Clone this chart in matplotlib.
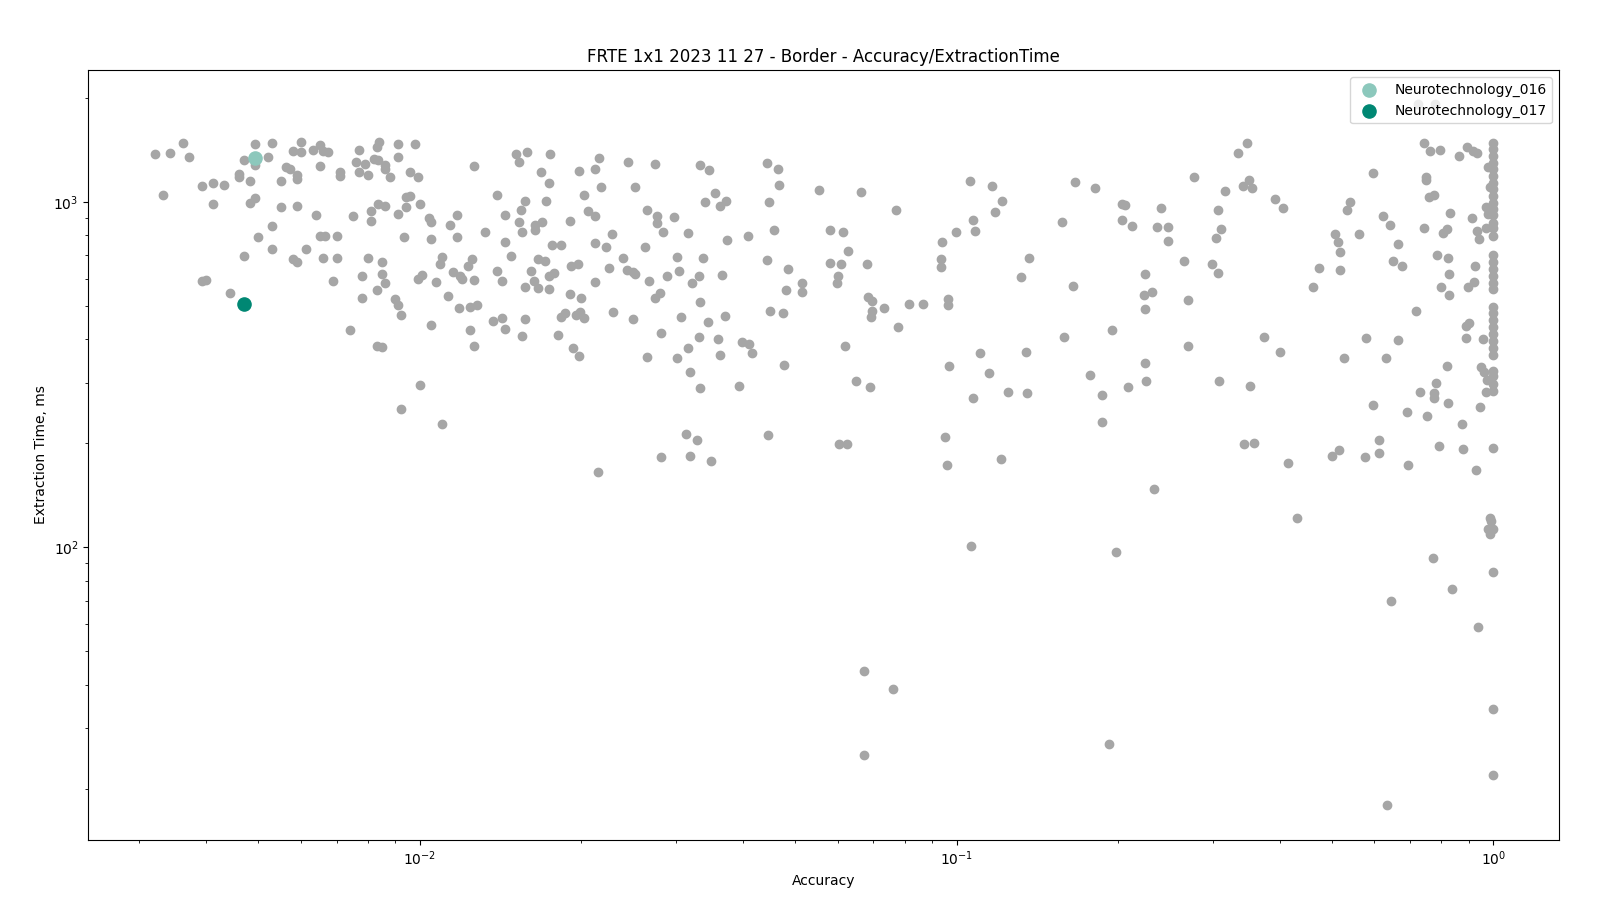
import matplotlib
matplotlib.use("Agg")
import matplotlib.pyplot as plt

# ---- data (Accuracy vs Extraction Time, ms) ----
accuracy = [
    # dense left region
    0.00321, 0.00342, 0.00361, 0.00371, 0.00332, 0.00392, 0.00411, 0.00431, 0.00411, 0.00492,
    0.00531, 0.00471, 0.00493, 0.00522, 0.00461, 0.00461, 0.00482, 0.00492, 0.00482, 0.00552,
    0.00562, 0.00573, 0.00591, 0.00591, 0.00581, 0.00601, 0.00601, 0.00631, 0.00652, 0.00661,
    0.00674, 0.00652, 0.00711, 0.00711, 0.00552, 0.00591, 0.00641, 0.00531, 0.0050, 0.00471,
    0.00531, 0.00581, 0.00591, 0.00612, 0.00652, 0.00664, 0.0070, 0.00661, 0.0070, 0.00392,
    0.0040, 0.00442, 0.0069, 0.00771, 0.00761, 0.00791, 0.00771, 0.0080, 0.00822, 0.00836,
    0.0084, 0.00833, 0.00862, 0.00862, 0.00881, 0.00912, 0.00912, 0.0098, 0.0096, 0.0099,
    0.0126, 0.00812, 0.00812, 0.00836, 0.00862, 0.00751, 0.00912, 0.00943, 0.00943, 0.0096,
    0.0100, 0.0104, 0.0105, 0.0105, 0.00932, 0.0114, 0.0117, 0.0117, 0.0132, 0.0080,
    0.0085, 0.0085, 0.00862, 0.00781, 0.00833, 0.00781, 0.0090, 0.00912, 0.00923, 0.0099,
    0.0101, 0.0107, 0.0110, 0.0109, 0.0115, 0.0119, 0.0120, 0.0125, 0.0123, 0.0126,
    0.0113, 0.0118, 0.0124, 0.0128, 0.0105, 0.00742, 0.0124, 0.00833, 0.0085, 0.0126,
    0.0100, 0.00923, 0.0110,
    # 0.013 - 0.055
    0.0151, 0.0158, 0.0153, 0.0175, 0.0168, 0.0174, 0.0198, 0.0212, 0.0216, 0.0217,
    0.0244, 0.0274, 0.0252, 0.0333, 0.0346, 0.0444, 0.0465, 0.0467, 0.0554, 0.0139,
    0.0157, 0.0172, 0.0154, 0.0144, 0.0153, 0.0164, 0.0164, 0.0169, 0.0155, 0.0190,
    0.0202, 0.0206, 0.0212, 0.0265, 0.0277, 0.0276, 0.0298, 0.0284, 0.0316, 0.0340,
    0.0355, 0.0363, 0.0372, 0.0447, 0.0457, 0.0409, 0.0374, 0.0144, 0.0148, 0.0139,
    0.0142, 0.0166, 0.0171, 0.0161, 0.0176, 0.0183, 0.0174, 0.0178, 0.0163, 0.0157,
    0.0166, 0.0174, 0.0212, 0.0222, 0.0228, 0.0191, 0.0197, 0.0225, 0.0212, 0.0190,
    0.0200, 0.0239, 0.0243, 0.0249, 0.0252, 0.0263, 0.0267, 0.0280, 0.0274, 0.0289,
    0.0301, 0.0304, 0.0322, 0.0331, 0.0337, 0.0366, 0.0333, 0.0444, 0.0485, 0.0516,
    0.0516, 0.0481, 0.0449, 0.0474, 0.0370, 0.0307, 0.0344, 0.0229, 0.0249, 0.0183,
    0.0186, 0.0195, 0.0199, 0.0202, 0.0157, 0.0137, 0.0142,
    0.0144, 0.0155, 0.0181, 0.0193, 0.0198, 0.0281, 0.0265, 0.0301, 0.0316, 0.0331,
    0.0360, 0.0363, 0.0398, 0.0411, 0.0416, 0.0476, 0.0318, 0.0333, 0.0393, 0.0313,
    0.0328, 0.0446, 0.0281, 0.0319, 0.0349, 0.0215,
    # 0.055 - 0.25
    0.0664, 0.0771, 0.106, 0.1165, 0.1215, 0.1179, 0.1073, 0.1082, 0.0997, 0.0940,
    0.0935, 0.0935, 0.1662, 0.181, 0.157, 0.2034, 0.206, 0.2034, 0.2122, 0.2406,
    0.2362, 0.2476, 0.2476, 0.0581, 0.0615, 0.0628, 0.0581, 0.0609, 0.0681, 0.0601,
    0.0599, 0.0684, 0.0696, 0.0732, 0.0696, 0.0693, 0.0815, 0.0866, 0.0964, 0.0964,
    0.1364, 0.1318, 0.1648, 0.2243, 0.2233, 0.2312, 0.2243,
    0.0778, 0.1947, 0.0620, 0.0650, 0.0690, 0.0604, 0.0624, 0.0968, 0.1105, 0.115,
    0.1073, 0.1248, 0.1352, 0.1347, 0.1585, 0.1773, 0.1865, 0.1865, 0.2086, 0.2243,
    0.2253, 0.0951, 0.0960, 0.1210, 0.2330,
    # 0.25 - 1.0
    0.3474, 0.3342, 0.2768, 0.3162, 0.3414, 0.3504, 0.3548, 0.3924, 0.4055, 0.3068,
    0.3108, 0.3042, 0.2652, 0.299, 0.3068, 0.2698, 0.596, 0.5405, 0.5335, 0.5065,
    0.513, 0.5178, 0.5615, 0.4735, 0.5178, 0.461, 0.6225, 0.6415, 0.664, 0.65,
    0.6755, 0.717, 0.742, 0.7615, 0.7945, 0.862, 0.892, 0.9155, 0.9315, 0.748,
    0.748, 0.758, 0.7745, 0.742, 0.8295, 0.8046, 0.8185, 0.9115, 0.9315, 0.9395,
    0.968, 0.7845, 0.8225, 0.826, 0.801, 0.826, 0.9235, 0.9195, 0.896, 0.8995,
    0.8885, 0.2698, 0.308, 0.3518, 0.3736, 0.40, 0.3428, 0.3578, 0.4145, 0.527,
    0.579, 0.6305, 0.664, 0.596, 0.50, 0.5155, 0.5765, 0.612, 0.612, 0.693,
    0.69, 0.7515, 0.7295, 0.781, 0.7745, 0.7745, 0.8225, 0.8185, 0.8735, 0.791,
    0.877, 0.9275, 0.9435, 0.8885, 0.959, 0.951, 0.969, 0.96, 0.975,
    # accuracy = 1.0 column
    1.0, 1.0, 1.0, 1.0, 1.0, 1.0, 1.0, 1.0, 1.0, 1.0,
    1.0, 1.0, 1.0, 1.0, 1.0, 1.0, 1.0, 1.0, 1.0, 1.0,
    1.0, 1.0, 1.0, 1.0, 1.0, 1.0, 1.0, 1.0, 1.0, 1.0,
    1.0, 1.0, 1.0, 1.0, 1.0, 1.0, 1.0, 1.0,
    0.976, 0.985, 0.969, 0.98, 0.985, 0.99, 0.98, 0.985,
    # sparse low points and points behind the legend
    0.431, 0.771, 0.837, 0.646, 0.9355, 0.633, 0.1065, 0.1985, 0.0673, 0.076,
    0.0673, 0.192, 0.7235, 0.78,
]

extraction_time_ms = [
    1380, 1385, 1480, 1350, 1045, 1112, 1135, 1120, 987, 1470,
    1480, 1325, 1280, 1350, 1205, 1178, 1150, 1030, 993, 1150,
    1263, 1245, 1197, 1166, 1405, 1494, 1392, 1417, 1465, 1405,
    1392, 1271, 1224, 1191, 967, 974, 917, 853, 792, 698,
    731, 684, 671, 731, 797, 797, 797, 689, 689, 592,
    596, 546, 592, 1417, 1305, 1288, 1221, 1197, 1331, 1323,
    1487, 1442, 1280, 1246, 1181, 1472, 1349, 1472, 1221, 1181,
    1271, 942, 882, 987, 974, 912, 924, 967, 1034, 1041,
    987, 899, 876, 782, 792, 858, 917, 792, 818, 689,
    671, 619, 582, 611, 557, 528, 525, 504, 471, 599,
    615, 586, 694, 662, 628, 611, 599, 684, 653, 595,
    534, 494, 497, 504, 441, 427, 427, 384, 381, 384,
    296, 251, 227,
    1380, 1398, 1308, 1380, 1221, 1135, 1232, 1246, 1340, 1105,
    1305, 1288, 1105, 1280, 1238, 1297, 1246, 1120, 1083, 1045,
    1007, 1007, 948, 917, 876, 858, 830, 876, 818, 882,
    1048, 942, 912, 948, 912, 870, 905, 818, 812, 1000,
    1062, 974, 1007, 1000, 830, 797, 776, 766, 698, 632,
    590, 684, 676, 632, 751, 751, 611, 624, 590, 568,
    564, 560, 761, 741, 808, 653, 662, 644, 586, 542,
    528, 689, 636, 628, 619, 741, 590, 546, 528, 611,
    694, 632, 582, 611, 689, 615, 514, 680, 640, 582,
    549, 557, 484, 478, 468, 465, 450, 481, 459, 465,
    478, 471, 481, 462, 459, 453, 462,
    430, 410, 413, 378, 359, 418, 356, 354, 378, 407,
    402, 361, 394, 389, 366, 338, 323, 290, 294, 213,
    205, 212, 183, 184, 178, 165,
    1069, 948, 1150, 1112, 1007, 936, 887, 824, 818, 766,
    684, 649, 1143, 1098, 876, 987, 980, 887, 853, 961,
    847, 847, 772, 830, 818, 722, 667, 662, 662, 611,
    582, 532, 518, 494, 484, 465, 508, 508, 525, 504,
    689, 607, 571, 619, 539, 549, 490,
    436, 427, 384, 304, 292, 199, 199, 334, 366, 320,
    271, 281, 279, 368, 407, 316, 277, 231, 292, 342,
    304, 209, 173, 180, 148,
    1481, 1386, 1181, 1076, 1112, 1158, 1098, 1020, 961, 948,
    835, 787, 676, 662, 624, 521, 1213, 1000, 948, 808,
    766, 717, 808, 644, 636, 568, 912, 858, 756, 676,
    653, 484, 1481, 1405, 1413, 1358, 1442, 1405, 1386, 1181,
    1158, 1034, 1045, 841, 930, 812, 836, 899, 823, 782,
    841, 703, 689, 619, 568, 539, 653, 586, 568, 446,
    437, 382, 304, 294, 407, 369, 199, 201, 176, 354,
    405, 354, 399, 259, 184, 191, 183, 204, 187, 173,
    247, 240, 282, 300, 279, 271, 262, 334, 228, 196,
    193, 168, 255, 405, 402, 333, 281, 322, 305,
    1485, 1428, 1361, 1300, 1248, 1191, 1137, 1093, 1043, 995,
    956, 914, 872, 838, 799, 700, 670, 641, 612, 584,
    558, 498, 476, 454, 434, 414, 395, 377, 361, 325,
    314, 298, 283, 194, 113, 85, 34, 22,
    1260, 1102, 967, 922, 122, 119, 113, 109,
    122, 93, 76, 70, 59, 18, 101, 97, 44, 39,
    25, 27, 1920, 1920,
]

highlight_names = ["Neurotechnology_016", "Neurotechnology_017"]
highlight_accuracy = [0.00492, 0.00471]
highlight_time_ms = [1340, 506]
highlight_colors = ["#8cc8bc", "#008773"]

assert len(accuracy) == len(extraction_time_ms), (len(accuracy), len(extraction_time_ms))

fig = plt.figure(figsize=(16, 9), dpi=100)
ax = fig.add_axes([0.0552, 0.0667, 0.9193, 0.8555])

ax.scatter(accuracy, extraction_time_ms, s=36, color="#a6a6a6")
for name, xv, yv, col in zip(highlight_names, highlight_accuracy,
                             highlight_time_ms, highlight_colors):
    ax.scatter([xv], [yv], s=90, color=col, label=name, zorder=3)

ax.set_xscale("log")
ax.set_yscale("log")
ax.set_xlim(10 ** -2.618, 10 ** 0.123)
ax.set_ylim(10 ** 1.153, 10 ** 3.382)

ax.set_title("FRTE 1x1 2023 11 27 - Border - Accuracy/ExtractionTime")
ax.set_xlabel("Accuracy")
ax.set_ylabel("Extraction Time, ms")
ax.legend(loc="upper right")

fig.savefig("out.png", dpi=100)
